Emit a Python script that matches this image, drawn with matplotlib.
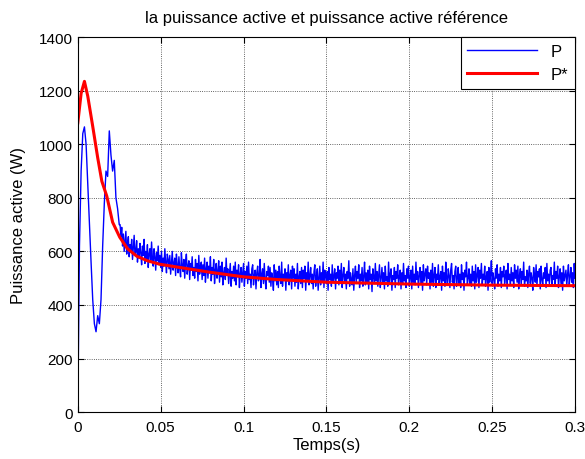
import numpy as np
import matplotlib.pyplot as plt

plt.rcParams['font.family'] = ['Liberation Sans', 'DejaVu Sans']

# measured active power P (W): start-up transient, one sample per ms (0 .. 0.025 s)
p_start = [
    0, 620, 900, 1040, 1065, 1000, 850, 700, 560, 420,
    330, 300, 360, 330, 420, 620, 780, 900, 880, 1050,
    960, 900, 940, 800, 760, 700,
]
# then one sample every 0.5 ms (0.0255 .. 0.3 s)
p_noise = [
    700, 655, 690, 620, 665, 600, 640, 675, 590, 630,
    655, 580, 625, 600, 645, 570, 615, 660, 585, 600,
    640, 560, 610, 575, 630, 595, 550, 620, 585, 645,
    555, 600, 570, 625, 540, 590, 610, 560, 635, 575,
    545, 610, 580, 530, 595, 565, 620, 550, 585, 540,
    600, 525, 575, 545, 610, 560, 520, 590, 570, 535,
    585, 515, 560, 600, 530, 555, 575, 510, 590, 545,
    520, 580, 535, 505, 595, 550, 525, 570, 500, 560,
    590, 515, 545, 565, 495, 555, 530, 580, 510, 540,
    500, 570, 525, 555, 490, 585, 515, 545, 560, 495,
    550, 510, 575, 485, 535, 560, 500, 545, 520, 580,
    490, 540, 515, 570, 480, 530, 555, 500, 525, 565,
    485, 545, 505, 560, 475, 520, 540, 495, 575, 510,
    535, 480, 520, 555, 470, 525, 500, 545, 490, 560,
    475, 530, 505, 550, 465, 515, 540, 485, 520, 555,
    470, 525, 500, 545, 480, 560, 495, 515, 465, 535,
    550, 475, 510, 530, 460, 520, 545, 490, 505, 570,
    465, 515, 535, 480, 555, 495, 460, 525, 510, 545,
    485, 540, 470, 520, 500, 455, 550, 490, 530, 475,
    525, 465, 545, 505, 480, 560, 470, 515, 495, 535,
    455, 520, 490, 550, 475, 510, 530, 460, 545, 500,
    535, 470, 515, 485, 555, 460, 505, 525, 480, 540,
    465, 530, 500, 545, 455, 520, 490, 560, 475, 510,
    540, 480, 515, 460, 525, 550, 470, 505, 535, 455,
    500, 545, 475, 520, 490, 560, 465, 530, 510, 480,
    525, 455, 540, 495, 515, 470, 550, 485, 505, 535,
    460, 520, 500, 545, 475, 530, 490, 555, 465, 510,
    540, 485, 515, 460, 525, 500, 565, 470, 520, 495,
    475, 535, 455, 510, 545, 480, 525, 500, 550, 465,
    515, 490, 540, 470, 505, 560, 475, 520, 485, 530,
    460, 545, 495, 515, 450, 535, 505, 480, 555, 490,
    525, 470, 510, 550, 465, 500, 540, 485, 520, 460,
    545, 490, 505, 470, 560, 480, 515, 535, 455, 510,
    495, 540, 465, 525, 500, 550, 475, 505, 530, 460,
    520, 480, 555, 490, 510, 465, 535, 500, 545, 470,
    505, 530, 460, 545, 485, 515, 475, 560, 495, 525,
    465, 510, 540, 480, 525, 455, 550, 490, 515, 535,
    475, 545, 500, 520, 460, 530, 485, 555, 470, 510,
    540, 465, 515, 495, 550, 480, 505, 525, 455, 545,
    490, 520, 470, 560, 500, 475, 535, 510, 465, 530,
    555, 485, 510, 460, 525, 545, 470, 500, 540, 480,
    515, 465, 550, 495, 520, 455, 530, 505, 560, 475,
    500, 535, 480, 515, 470, 545, 490, 525, 460, 550,
    485, 510, 540, 465, 530, 500, 555, 475, 515, 495,
    545, 470, 505, 525, 455, 540, 485, 510, 565, 480,
    520, 495, 460, 535, 500, 550, 470, 515, 490, 540,
    465, 525, 505, 545, 480, 510, 530, 460, 555, 495,
    515, 475, 540, 490, 520, 465, 550, 500, 530, 485,
    545, 460, 510, 535, 475, 525, 495, 560, 470, 505,
    490, 530, 465, 515, 545, 480, 520, 500, 455, 540,
    510, 485, 550, 470, 525, 505, 535, 460, 545, 495,
    475, 520, 500, 540, 465, 555, 490, 515, 480, 530,
    540, 470, 510, 495, 560, 475, 525, 500, 545, 465,
    505, 535, 480, 520, 455, 545, 490, 510, 530, 470,
    515, 550, 475, 505, 540, 485, 520, 465, 555, 500,
]
t_start = np.arange(len(p_start)) * 0.001
t_noise = 0.0255 + np.arange(len(p_noise)) * 0.0005
t_meas = np.concatenate([t_start, t_noise])
p_meas = p_start + p_noise

# reference active power P*
t_ref = [0, 0.002, 0.004, 0.006, 0.009, 0.012, 0.0145, 0.0175, 0.021, 0.0253,
         0.03, 0.0356, 0.042, 0.0495, 0.0676, 0.08, 0.1, 0.12, 0.15, 0.2, 0.25, 0.3]
p_ref = [1080, 1190, 1235, 1180, 1067, 950, 862, 806, 709, 653,
         610, 582, 565, 552, 534, 522, 505, 495, 485, 478, 474, 472]

fig = plt.figure(figsize=(5.85, 4.6), dpi=100)
ax = fig.add_axes([0.133, 0.102, 0.850, 0.815])
ax.plot(t_meas, p_meas, color='#0000ff', lw=1.0, label='P')
ax.plot(t_ref, p_ref, color='#ff0000', lw=2.2, label='P*')

ax.set_xlim(0, 0.3)
ax.set_ylim(0, 1400)
ax.set_xticks([0, 0.05, 0.1, 0.15, 0.2, 0.25, 0.3])
ax.set_xticklabels(['0', '0.05', '0.1', '0.15', '0.2', '0.25', '0.3'])
ax.set_yticks(range(0, 1401, 200))
ax.tick_params(direction='in', top=True, right=True, labelsize=11, length=4)
ax.tick_params(axis='x', pad=6)
ax.grid(True, color='black', linestyle=':', linewidth=0.6, alpha=0.8)
ax.set_title('la puissance active et puissance active référence', fontsize=12, pad=11)
ax.set_xlabel('Temps(s)', fontsize=12, labelpad=2)
ax.set_ylabel('Puissance active (W)', fontsize=12, labelpad=9)
leg = ax.legend(loc='upper right', fancybox=False, framealpha=1,
                edgecolor='black', fontsize=12, borderaxespad=0.0, handlelength=4.2)
leg.get_frame().set_linewidth(0.8)

fig.savefig('out.png', dpi=100)
